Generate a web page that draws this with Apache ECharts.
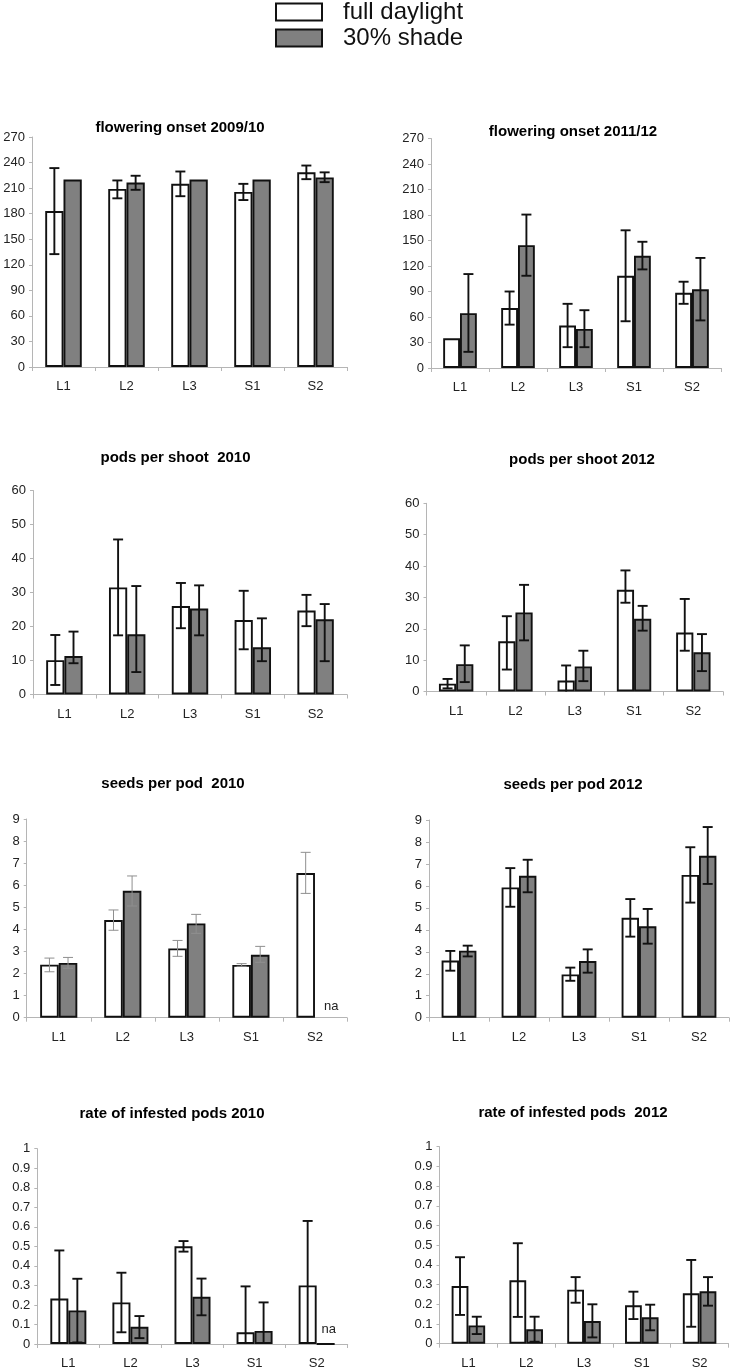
<!DOCTYPE html>
<html><head><meta charset="utf-8">
<script src="https://cdn.jsdelivr.net/npm/echarts@6/dist/echarts.min.js"></script>
<style>html,body{margin:0;padding:0;background:#fff}#c{width:732px;height:1370px}</style>
</head><body><div id="c"></div>
<script>
// ---------- data ----------
const categories = ['L1', 'L2', 'L3', 'S1', 'S2'];
const seriesNames = ['full daylight', '30% shade'];

// flowering onset 2009/10
const flower0910_full    = [183, 209, 215, 205.5, 228.5];
const flower0910_full_lo = [132.5, 198, 200.5, 196, 220.5];
const flower0910_full_hi = [233.5, 219, 229.5, 215, 236.5];
const flower0910_shade    = [220, 216.5, 220, 220, 222.5];
const flower0910_shade_lo = [null, 208, null, null, 217];
const flower0910_shade_hi = [null, 224.5, null, null, 228.5];

// flowering onset 2011/12
const flower1112_full    = [35, 70.5, 50, 108.5, 88.5];
const flower1112_full_lo = [null, 51, 24.5, 55, 75.5];
const flower1112_full_hi = [null, 90, 75.5, 162, 101.5];
const flower1112_shade    = [64.5, 144.5, 46, 132, 92.5];
const flower1112_shade_lo = [19, 108.5, 24.5, 116, 56];
const flower1112_shade_hi = [110.5, 180.5, 68, 148.5, 129.5];

// pods per shoot 2010
const pods2010_full    = [10.1, 31.5, 26, 21.9, 24.7];
const pods2010_full_lo = [2.8, 17.4, 19.5, 13.3, 20.1];
const pods2010_full_hi = [17.5, 45.6, 32.8, 30.5, 29.3];
const pods2010_shade    = [11.3, 17.7, 25.3, 13.9, 22.1];
const pods2010_shade_lo = [9.2, 6.6, 17.4, 9.8, 9.8];
const pods2010_shade_hi = [18.5, 31.9, 32.1, 22.4, 26.6];

// pods per shoot 2012
const pods2012_full    = [2.5, 16, 3.5, 32.4, 18.8];
const pods2012_full_lo = [1, 7, -1, 28.3, 13];
const pods2012_full_hi = [4, 24, 8.3, 38.6, 29.5];
const pods2012_shade    = [8.7, 25.2, 8, 23.2, 12.5];
const pods2012_shade_lo = [3, 16.3, 3.3, 19.4, 6.5];
const pods2012_shade_hi = [14.7, 34, 13, 27.3, 18.3];

// seeds per pod 2010
const seeds2010_full    = [2.4, 4.42, 3.14, 2.39, 6.55];
const seeds2010_full_lo = [2.08, 3.96, 2.78, 2.33, 5.63];
const seeds2010_full_hi = [2.7, 4.88, 3.5, 2.45, 7.49];
const seeds2010_shade    = [2.48, 5.75, 4.27, 2.85, null];
const seeds2010_shade_lo = [2.24, 5.06, 3.82, 2.51, null];
const seeds2010_shade_hi = [2.73, 6.42, 4.68, 3.23, null];

// seeds per pod 2012
const seeds2012_full    = [2.6, 5.93, 1.97, 4.55, 6.5];
const seeds2012_full_lo = [2.14, 5.05, 1.68, 3.69, 5.24];
const seeds2012_full_hi = [3.04, 6.81, 2.28, 5.4, 7.76];
const seeds2012_shade    = [3.05, 6.46, 2.58, 4.16, 7.37];
const seeds2012_shade_lo = [2.79, 5.71, 2.05, 3.37, 6.09];
const seeds2012_shade_hi = [3.28, 7.19, 3.11, 4.95, 8.68];

// rate of infested pods 2010
const infest2010_full    = [0.233, 0.213, 0.5, 0.06, 0.30];
const infest2010_full_lo = [-0.01, 0.06, 0.473, -0.175, -0.03];
const infest2010_full_hi = [0.479, 0.365, 0.527, 0.295, 0.63];
const infest2010_shade    = [0.172, 0.088, 0.242, 0.067, null];
const infest2010_shade_lo = [0.008, 0.03, 0.147, -0.08, null];
const infest2010_shade_hi = [0.334, 0.143, 0.335, 0.213, null];

// rate of infested pods 2012
const infest2012_full    = [0.293, 0.322, 0.274, 0.195, 0.256];
const infest2012_full_lo = [0.146, 0.136, 0.208, 0.125, 0.086];
const infest2012_full_hi = [0.439, 0.51, 0.338, 0.264, 0.425];
const infest2012_shade    = [0.093, 0.073, 0.115, 0.134, 0.266];
const infest2012_shade_lo = [0.049, 0.01, 0.032, 0.068, 0.193];
const infest2012_shade_hi = [0.137, 0.137, 0.2, 0.198, 0.338];

// ---------- layout ----------
const FONT = '"Liberation Sans", Arial, sans-serif';
const GAP = 0.42;
const panels = [
  {title: 'flowering onset 2009/10', tx: 180, ty: 128, grid: {left: 32, top: 137, width: 315, height: 230},
   max: 270, interval: 30, full: flower0910_full, fullLo: flower0910_full_lo, fullHi: flower0910_full_hi,
   shade: flower0910_shade, shadeLo: flower0910_shade_lo, shadeHi: flower0910_shade_hi},
  {title: 'flowering onset 2011/12', tx: 573, ty: 131.5, grid: {left: 431, top: 138.5, width: 290, height: 229.5},
   max: 270, interval: 30, full: flower1112_full, fullLo: flower1112_full_lo, fullHi: flower1112_full_hi,
   shade: flower1112_shade, shadeLo: flower1112_shade_lo, shadeHi: flower1112_shade_hi},
  {title: 'pods per shoot  2010', tx: 175.5, ty: 458, grid: {left: 33, top: 490.5, width: 314, height: 204},
   max: 60, interval: 10, full: pods2010_full, fullLo: pods2010_full_lo, fullHi: pods2010_full_hi,
   shade: pods2010_shade, shadeLo: pods2010_shade_lo, shadeHi: pods2010_shade_hi},
  {title: 'pods per shoot 2012', tx: 582, ty: 460, grid: {left: 426.5, top: 503.3, width: 296.5, height: 188.2},
   max: 60, interval: 10, full: pods2012_full, fullLo: pods2012_full_lo, fullHi: pods2012_full_hi,
   shade: pods2012_shade, shadeLo: pods2012_shade_lo, shadeHi: pods2012_shade_hi},
  {title: 'seeds per pod  2010', tx: 173, ty: 784, grid: {left: 26.7, top: 819, width: 320.3, height: 198.7},
   max: 9, interval: 1, full: seeds2010_full, fullLo: seeds2010_full_lo, fullHi: seeds2010_full_hi,
   shade: seeds2010_shade, shadeLo: seeds2010_shade_lo, shadeHi: seeds2010_shade_hi,
   errColor: '#8f8f8f', errWidth: 1, na: {dist: 5, off: 7, line: false}},
  {title: 'seeds per pod 2012', tx: 573, ty: 785, grid: {left: 429, top: 820, width: 300, height: 197.7},
   max: 9, interval: 1, full: seeds2012_full, fullLo: seeds2012_full_lo, fullHi: seeds2012_full_hi,
   shade: seeds2012_shade, shadeLo: seeds2012_shade_lo, shadeHi: seeds2012_shade_hi},
  {title: 'rate of infested pods 2010', tx: 172, ty: 1114, grid: {left: 37.3, top: 1148.7, width: 310.4, height: 195.6},
   max: 1, interval: 0.1, dec: true, full: infest2010_full, fullLo: infest2010_full_lo, fullHi: infest2010_full_hi,
   shade: infest2010_shade, shadeLo: infest2010_shade_lo, shadeHi: infest2010_shade_hi,
   na: {dist: 7, off: 3, line: true}},
  {title: 'rate of infested pods  2012', tx: 573, ty: 1113, grid: {left: 439.5, top: 1146.7, width: 289, height: 197},
   max: 1, interval: 0.1, dec: true, full: infest2012_full, fullLo: infest2012_full_lo, fullHi: infest2012_full_hi,
   shade: infest2012_shade, shadeLo: infest2012_shade_lo, shadeHi: infest2012_shade_hi}
];

const AXIS_COLOR = '#b5b5b5';
const BORDER = 1.9;
const grids = [], xAxes = [], yAxes = [], series = [], graphics = [];

function errSeries(gi, lo, hi, which, color, width) {
  const data = [];
  lo.forEach((l, i) => { if (l != null && hi[i] != null) data.push([i, l, hi[i]]); });
  return {
    type: 'custom', xAxisIndex: gi, yAxisIndex: gi, z: 10, silent: true, clip: false,
    data: data, encode: {x: 0, y: [1, 2]},
    renderItem: function (params, api) {
      const i = api.value(0), lo = api.value(1), hi = api.value(2);
      const band = api.size([1, 0])[0];
      const bw = band * (1 - GAP) / 2;
      const off = which === 0 ? -bw / 2 : bw / 2;
      const zero = api.coord([i, 0]);
      const top = api.coord([i, hi]);
      const bot = api.coord([i, lo]);
      const x = zero[0] + off;
      const clipB = lo < 0;
      const by = clipB ? zero[1] : bot[1];
      const st = {stroke: color, lineWidth: width};
      const cw = 5;
      const ch = [
        {type: 'line', shape: {x1: x, y1: top[1], x2: x, y2: by}, style: st},
        {type: 'line', shape: {x1: x - cw, y1: top[1], x2: x + cw, y2: top[1]}, style: st}
      ];
      if (!clipB) ch.push({type: 'line', shape: {x1: x - cw, y1: by, x2: x + cw, y2: by}, style: st});
      return {type: 'group', children: ch};
    }
  };
}

panels.forEach((p, gi) => {
  grids.push(Object.assign({containLabel: false}, p.grid));
  xAxes.push({
    type: 'category', gridIndex: gi, data: categories,
    axisLine: {lineStyle: {color: AXIS_COLOR, width: 1}},
    axisTick: {show: true, length: 4, lineStyle: {color: AXIS_COLOR}},
    axisLabel: {color: '#222', fontFamily: FONT, fontSize: 13, margin: 13},
    splitLine: {show: false}
  });
  yAxes.push({
    type: 'value', gridIndex: gi, min: 0, max: p.max, interval: p.interval,
    axisLine: {show: true, lineStyle: {color: AXIS_COLOR, width: 1}},
    axisTick: {show: true, length: 3, lineStyle: {color: AXIS_COLOR}},
    axisLabel: {color: '#222', fontFamily: FONT, fontSize: 13, margin: 7,
      formatter: p.dec ? (v => String(+v.toFixed(1))) : (v => String(v))},
    splitLine: {show: false}
  });
  const shadeData = p.shade.map((v, i) => {
    if (v == null && p.na) {
      return {value: 0, itemStyle: p.na.line ? {} : {borderWidth: 0},
        label: {show: true, position: 'top', distance: p.na.dist, offset: [p.na.off, 0],
          formatter: 'na', color: '#222', fontFamily: FONT, fontSize: 13}};
    }
    return v;
  });
  series.push({
    name: seriesNames[0], type: 'bar', xAxisIndex: gi, yAxisIndex: gi, data: p.full,
    barGap: '0%', barCategoryGap: (GAP * 100) + '%',
    itemStyle: {color: '#ffffff', borderColor: '#111', borderWidth: BORDER}, silent: true
  });
  series.push({
    name: seriesNames[1], type: 'bar', xAxisIndex: gi, yAxisIndex: gi, data: shadeData,
    barGap: '0%', barCategoryGap: (GAP * 100) + '%',
    itemStyle: {color: '#808080', borderColor: '#111', borderWidth: BORDER}, silent: true
  });
  const ec = p.errColor || '#111', ew = p.errWidth || 1.9;
  series.push(errSeries(gi, p.fullLo, p.fullHi, 0, ec, ew));
  series.push(errSeries(gi, p.shadeLo, p.shadeHi, 1, ec, ew));
  graphics.push({
    type: 'text', x: p.tx, y: p.ty, silent: true,
    style: {text: p.title, font: 'bold 15px ' + FONT, fill: '#000',
      align: 'center', verticalAlign: 'middle', textAlign: 'center', textVerticalAlign: 'middle'}
  });
});

const chart = echarts.init(document.getElementById('c'), null, {renderer: 'canvas'});
chart.setOption({
  animation: false,
  backgroundColor: '#fff',
  legend: {
    orient: 'vertical', left: 275, top: 0, padding: 0,
    itemWidth: 46, itemHeight: 17, itemGap: 2, icon: 'rect',
    selectedMode: false,
    textStyle: {fontFamily: FONT, fontSize: 24, color: '#111', lineHeight: 17, padding: [0, 0, 0, 16]},
    data: [
      {name: seriesNames[0], itemStyle: {color: '#fff', borderColor: '#111', borderWidth: 2}},
      {name: seriesNames[1], itemStyle: {color: '#808080', borderColor: '#111', borderWidth: 2}}
    ]
  },
  grid: grids, xAxis: xAxes, yAxis: yAxes, series: series,
  graphic: graphics
});
</script>
</body></html>
